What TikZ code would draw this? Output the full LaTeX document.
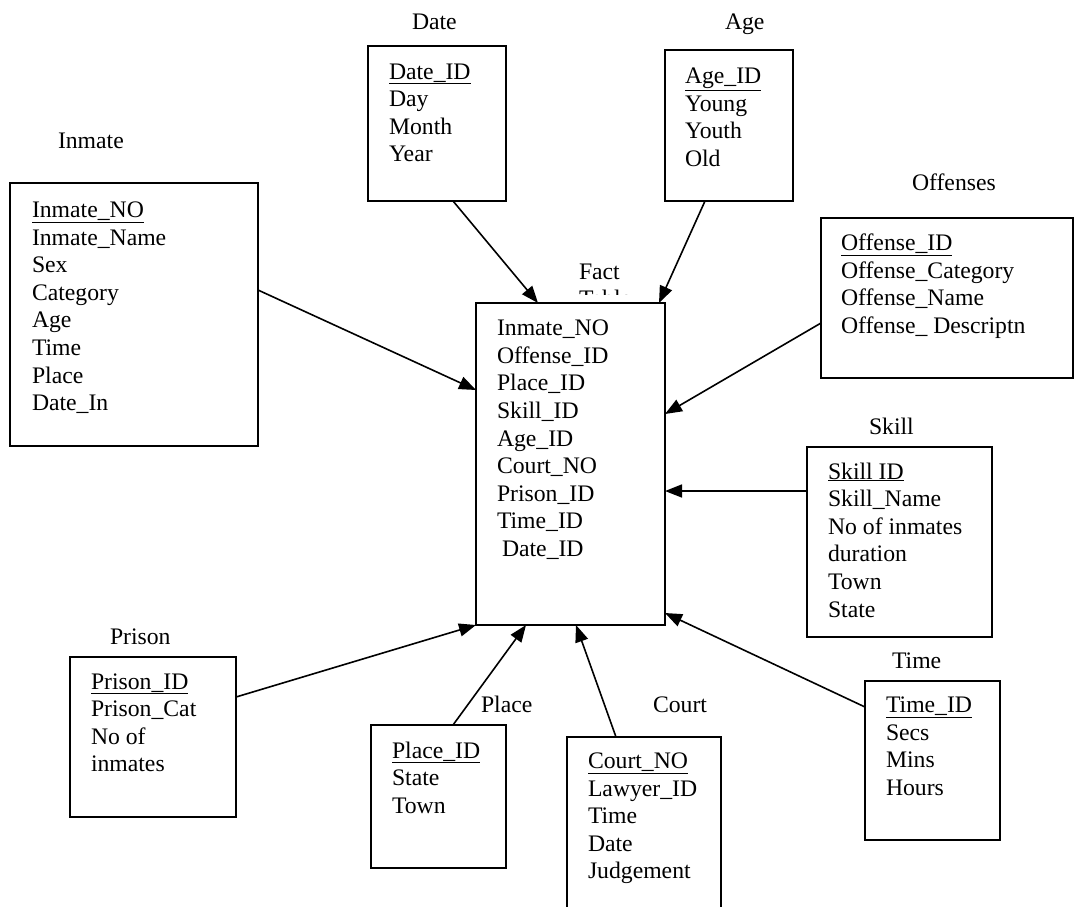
\documentclass[tikz,border=0pt]{standalone}
\usepackage{fontspec}
\setmainfont{Liberation Serif}
\usetikzlibrary{arrows.meta,calc,fit}
\begin{document}
\begin{tikzpicture}[x=1pt,y=-1pt,
  tbl/.style={draw, line width=1.8pt, inner sep=0pt, outer sep=0pt, rectangle},
  attr/.style={anchor=base west, inner sep=0pt, outer sep=0pt, font=\fontsize{23.7}{27.6}\selectfont},
  lbl/.style={anchor=base west, inner sep=0pt, outer sep=0pt, font=\fontsize{23.7}{27.6}\selectfont},
  link/.style={line width=1.6pt, -{Triangle[length=17pt,width=13pt]}}]
\clip (0,0) rectangle (1075,906);
\fill[white] (0,0) rectangle (1075,906);

% boxes
\node[tbl, fit={(368,46)(506,201)}] (date) {};
\node[tbl, fit={(665,50)(793,201)}] (age) {};
\node[tbl, fit={(10,183)(258,446)}] (inmate) {};
\node[tbl, fit={(821,218)(1073,378)}] (off) {};
\node[tbl, fit={(476,303)(665,625)}] (fact) {};
\node[tbl, fit={(807,447)(992,637)}] (skill) {};
\node[tbl, fit={(865,681)(1000,840)}] (time) {};
\node[tbl, fit={(70,657)(236,817)}] (prison) {};
\node[tbl, fit={(371,725)(506,868)}] (place) {};
\node[tbl, fit={(567,737)(721,940)}] (court) {};

% titles
\node[lbl] (date-t) at (412,29.7) {Date};
\node[lbl] (age-t) at (725,29.7) {Age};
\node[lbl] (inmate-t) at (58,148) {Inmate};
\node[lbl] (off-t) at (912,190) {Offenses};
\node[lbl] (fact-t) at (579,279) {Fact};
\begin{scope}
  \clip (540,250) rectangle (700,294.5);
  \node[lbl] (fact-t2) at (579,306.6) {Table};
\end{scope}
\node[lbl] (skill-t) at (869,434) {Skill};
\node[lbl] (time-t) at (892,668) {Time};
\node[lbl] (court-t) at (653,712.4) {Court};
\node[lbl] (prison-t) at (110,644) {Prison};
\node[lbl] (place-t) at (481,712.4) {Place};

% attributes
\foreach \t [count=\i] in {{\underline{Date\_ID}},Day,Month,Year}
  \node[attr] (date-\i) at (389,{79+27.6*(\i-1)}) {\t};
\foreach \t [count=\i] in {{\underline{Age\_ID}},Young,Youth,Old}
  \node[attr] (age-\i) at (685,{83.4+27.6*(\i-1)}) {\t};
\foreach \t [count=\i] in {{\underline{Inmate\_NO}},Inmate\_Name,Sex,Category,Age,Time,Place,Date\_In}
  \node[attr] (inmate-\i) at (32,{217.4+27.6*(\i-1)}) {\t};
\foreach \t [count=\i] in {{\underline{Offense\_ID}},Offense\_Category,Offense\_Name,Offense\_ Descriptn}
  \node[attr] (off-\i) at (841,{250.7+27.6*(\i-1)}) {\t};
\foreach \t [count=\i] in {Inmate\_NO,Offense\_ID,Place\_ID,Skill\_ID,Age\_ID,Court\_NO,Prison\_ID,Time\_ID,{\hspace*{5pt}Date\_ID}}
  \node[attr] (fact-\i) at (497,{335.6+27.6*(\i-1)}) {\t};
\foreach \t [count=\i] in {{\underline{Skill ID}},Skill\_Name,No of inmates,duration,Town,State}
  \node[attr] (skill-\i) at (828,{479+27.6*(\i-1)}) {\t};
\foreach \t [count=\i] in {{\underline{Time\_ID}},Secs,Mins,Hours}
  \node[attr] (time-\i) at (886,{712.4+27.6*(\i-1)}) {\t};
\foreach \t [count=\i] in {{\underline{Prison\_ID}},Prison\_Cat,No of,inmates}
  \node[attr] (prison-\i) at (91,{689+27.6*(\i-1)}) {\t};
\foreach \t [count=\i] in {{\underline{Place\_ID}},State,Town}
  \node[attr] (place-\i) at (392,{758+27.6*(\i-1)}) {\t};
\foreach \t [count=\i] in {{\underline{Court\_NO}},Lawyer\_ID,Time,Date,Judgement}
  \node[attr] (court-\i) at (588,{768.4+27.6*(\i-1)}) {\t};

% connectors
\draw[link] ($(inmate.north east)+(0,107)$) -- ($(fact.north west)+(0,87)$);
\draw[link] ($(date.south west)+(85,0)$) -- ($(fact.north west)+(62,0)$);
\draw[link] ($(age.south west)+(40,0)$) -- ($(fact.north west)+(183,0)$);
\draw[link] ($(off.north west)+(0,105)$) -- ($(fact.north east)+(0,111)$);
\draw[link] ($(skill.north west)+(0,44)$) -- ($(fact.north east)+(0,188)$);
\draw[link] ($(time.north west)+(0,26)$) -- ($(fact.north east)+(0,310)$);
\draw[link] ($(court.north west)+(49,0)$) -- ($(fact.south west)+(100,0)$);
\draw[link] ($(place.north west)+(82,0)$) -- ($(fact.south west)+(50,0)$);
\draw[link] ($(prison.north east)+(0,40)$) -- (fact.south west);
\end{tikzpicture}
\end{document}
